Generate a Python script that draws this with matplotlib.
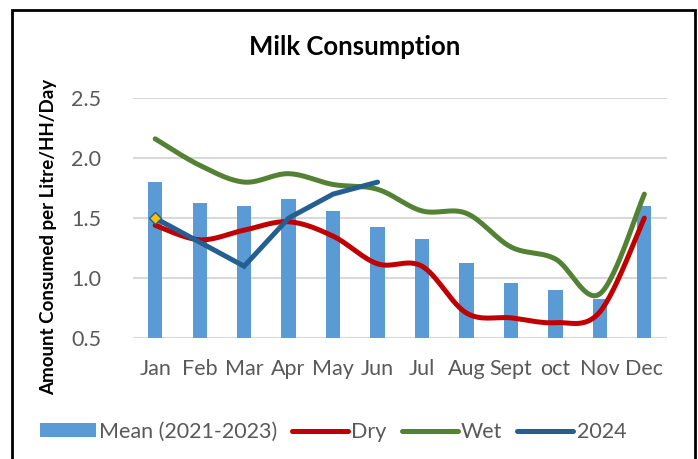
import numpy as np
import matplotlib
matplotlib.use("Agg")
import matplotlib.pyplot as plt
from matplotlib.patches import Rectangle, Patch
from matplotlib.lines import Line2D

months = ["Jan", "Feb", "Mar", "Apr", "May", "Jun", "Jul", "Aug", "Sept", "oct", "Nov", "Dec"]
mean_2021_2023 = [1.80, 1.63, 1.60, 1.66, 1.56, 1.43, 1.33, 1.13, 0.96, 0.90, 0.83, 1.60]
dry = [1.44, 1.32, 1.40, 1.47, 1.35, 1.12, 1.10, 0.71, 0.67, 0.63, 0.72, 1.50]
wet = [2.16, 1.94, 1.80, 1.87, 1.78, 1.74, 1.56, 1.54, 1.26, 1.16, 0.87, 1.70]
y2024 = [1.50, 1.30, 1.10, 1.50, 1.70, 1.80]
yticks = [0.5, 1.0, 1.5, 2.0, 2.5]

FONT = ["Lato", "DejaVu Sans"]
plt.rcParams["font.family"] = FONT
GRAY = "#595959"
FS = 15.5
LW = 3.6


def smooth(xs, ys, n=30):
    """Bezier smoothing through every point (Catmull-Rom style control points)."""
    xs = np.asarray(xs, float)
    ys = np.asarray(ys, float)
    P = np.column_stack([xs, ys])
    out = []
    for i in range(len(P) - 1):
        p0 = P[i - 1] if i > 0 else P[i]
        p1, p2 = P[i], P[i + 1]
        p3 = P[i + 2] if i + 2 < len(P) else P[i + 1]
        c1 = p1 + (p2 - p0) / 6.0
        c2 = p2 - (p3 - p1) / 6.0
        t = np.linspace(0, 1, n)[:, None]
        seg = ((1 - t) ** 3) * p1 + 3 * ((1 - t) ** 2) * t * c1 + 3 * (1 - t) * t ** 2 * c2 + t ** 3 * p2
        out.append(seg if i == 0 else seg[1:])
    seg = np.vstack(out)
    return seg[:, 0], seg[:, 1]


fig = plt.figure(figsize=(6.98, 4.59), dpi=100)
ax = fig.add_axes([0.1905, 0.263, 0.7645, 0.5235])

x = np.arange(len(months))
ax.bar(x, mean_2021_2023, width=0.32, color="#5B9BD5", zorder=2)

sx, sy = smooth(x, dry)
ax.plot(sx, sy, color="#C00000", lw=LW, solid_capstyle="round", zorder=3)
sx, sy = smooth(x, wet)
ax.plot(sx, sy, color="#548235", lw=LW, solid_capstyle="round", zorder=3)
ax.plot(x[:len(y2024)], y2024, color="#255E91", lw=LW, solid_capstyle="round",
        solid_joinstyle="miter", zorder=4)
ax.plot([x[0]], [y2024[0]], marker="D", ms=6.5, mfc="#FFC000", mec="#255E91", mew=1.0, zorder=5)

ax.set_xlim(-0.5, len(months) - 0.5)
ax.set_ylim(0.5, 2.5)
ax.set_yticks(yticks)
ax.set_yticklabels([f"{v:.1f}" for v in yticks])
ax.set_xticks(x)
ax.set_xticklabels(months)
ax.yaxis.grid(True, color="#D9D9D9", lw=1.5, zorder=0)
ax.set_axisbelow(True)
for s in ax.spines.values():
    s.set_visible(False)
ax.tick_params(length=0, labelsize=FS, colors=GRAY)
ax.tick_params(axis="y", pad=23)
ax.tick_params(axis="x", pad=15)

ax.set_ylabel("Amount Consumed per Litre/HH/Day", fontsize=13.5, fontweight="bold",
              color="black")
ax.yaxis.set_label_coords(-0.142, 0.42)

fig.text(0.508, 0.897, "Milk Consumption", ha="center", va="center", fontsize=18.5,
         fontweight="bold", color="black")

handles = [
    Patch(facecolor="#5B9BD5", edgecolor="none"),
    Line2D([], [], color="#C00000", lw=LW, solid_capstyle="round"),
    Line2D([], [], color="#548235", lw=LW, solid_capstyle="round"),
    Line2D([], [], color="#255E91", lw=LW, solid_capstyle="round"),
]
labels = ["Mean (2021-2023)", "Dry", "Wet", "2024"]
leg = fig.legend(handles, labels, loc="center", bbox_to_anchor=(0.477, 0.059), ncol=4,
                 frameon=False, fontsize=FS, handlelength=2.6, handletextpad=0.15,
                 columnspacing=0.7, handleheight=0.6)
for t in leg.get_texts():
    t.set_color(GRAY)

fig.patches.append(Rectangle((12 / 698, -0.05), (695 - 12) / 698, 1.05 - 10 / 459,
                             transform=fig.transFigure, fill=False, edgecolor="black",
                             lw=2.0, zorder=10))

fig.savefig("out.png", dpi=100)
